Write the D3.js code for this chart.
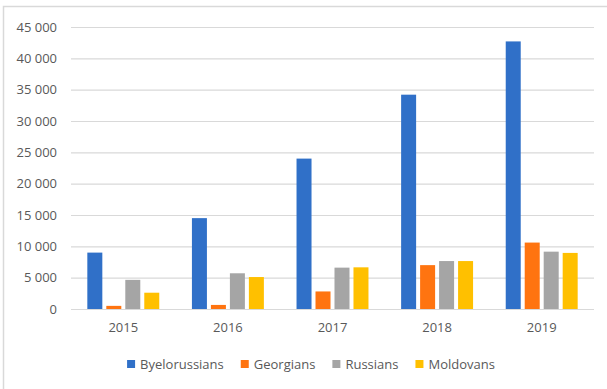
<!DOCTYPE html>
<html>
<head>
<meta charset="utf-8">
<script src="https://cdn.jsdelivr.net/npm/d3@7"></script>
<style>
  html, body { margin: 0; padding: 0; background: #fff; }
  svg { display: block; }
  text { font-family: "Open Sans", "Liberation Sans", sans-serif; fill: #595959; }
</style>
</head>
<body>
<svg id="chart" width="607" height="389"></svg>
<script>
// Migrant counts by nationality and year
const years = ["2015", "2016", "2017", "2018", "2019"];
const seriesNames = ["Byelorussians", "Georgians", "Russians", "Moldovans"];
const byelorussians = [9000, 14500, 24000, 34200, 42700];
const georgians = [500, 650, 2800, 7000, 10600];
const russians = [4650, 5700, 6600, 7650, 9150];
const moldovans = [2600, 5100, 6650, 7650, 8950];
const yTicks = [0, 5000, 10000, 15000, 20000, 25000, 30000, 35000, 40000, 45000];
const colors = ["#3070c8", "#ff7410", "#a5a5a5", "#ffc000"];

const seriesValues = [byelorussians, georgians, russians, moldovans];
const rows = years.map((y, i) => ({
  year: y,
  values: seriesNames.map((s, k) => ({ key: s, value: seriesValues[k][i] }))
}));

const svg = d3.select("#chart");
const W = 607, H = 389;
const plot = { left: 71, right: 594, top: 27, bottom: 309 };

// chart frame
svg.append("rect")
  .attr("x", 3.5).attr("y", 6.5)
  .attr("width", W + 10).attr("height", H + 10)
  .attr("fill", "none").attr("stroke", "#d9d9d9").attr("stroke-width", 1.5);

const x0 = d3.scaleBand().domain(years).range([plot.left, plot.right]).padding(0);
const x1 = d3.scaleBand().domain(seriesNames).range([0, x0.bandwidth()])
  .paddingInner(0.21).paddingOuter(0.86);
const y = d3.scaleLinear().domain([0, 45000]).range([plot.bottom, plot.top]);
const color = d3.scaleOrdinal().domain(seriesNames).range(colors);

const fmt = d3.formatLocale({ decimal: ",", thousands: "\u00a0", grouping: [3], currency: ["", ""] }).format(",d");

// horizontal gridlines
const yAxis = d3.axisLeft(y).tickValues(yTicks).tickSize(-(plot.right - plot.left)).tickFormat(fmt).tickPadding(14);
const gy = svg.append("g").attr("transform", `translate(${plot.left},0)`).call(yAxis);
gy.select(".domain").remove();
gy.selectAll(".tick line").attr("stroke", "#d9d9d9").attr("stroke-width", 1.2);
gy.selectAll(".tick text").attr("font-size", 13).attr("fill", "#595959")
  .style("font-family", "'Open Sans', sans-serif");

// category axis labels
const xAxis = d3.axisBottom(x0).tickSize(0).tickPadding(14);
const gx = svg.append("g").attr("transform", `translate(0,${plot.bottom})`).call(xAxis);
gx.select(".domain").remove();
gx.selectAll(".tick text").attr("font-size", 13).attr("fill", "#595959")
  .style("font-family", "'Open Sans', sans-serif");

// bars
const groups = svg.append("g").selectAll("g").data(rows).join("g")
  .attr("transform", d => `translate(${x0(d.year)},0)`);
groups.selectAll("rect").data(d => d.values).join("rect")
  .attr("x", d => x1(d.key))
  .attr("width", x1.bandwidth())
  .attr("y", d => y(d.value))
  .attr("height", d => y(0) - y(d.value))
  .attr("fill", d => color(d.key));

// legend
const legend = svg.append("g");
let cx = 0;
const items = seriesNames.map(name => {
  const g = legend.append("g");
  g.append("rect").attr("width", 8).attr("height", 8).attr("y", -4).attr("fill", color(name));
  const t = g.append("text").attr("x", 13).attr("y", 4.5).attr("font-size", 13).text(name);
  const w = 13 + t.node().getComputedTextLength();
  g.attr("transform", `translate(${cx},0)`);
  cx += w + 17;
  return g;
});
const legendWidth = cx - 17;
legend.attr("transform", `translate(${311 - legendWidth / 2},364)`);
</script>
</body>
</html>
